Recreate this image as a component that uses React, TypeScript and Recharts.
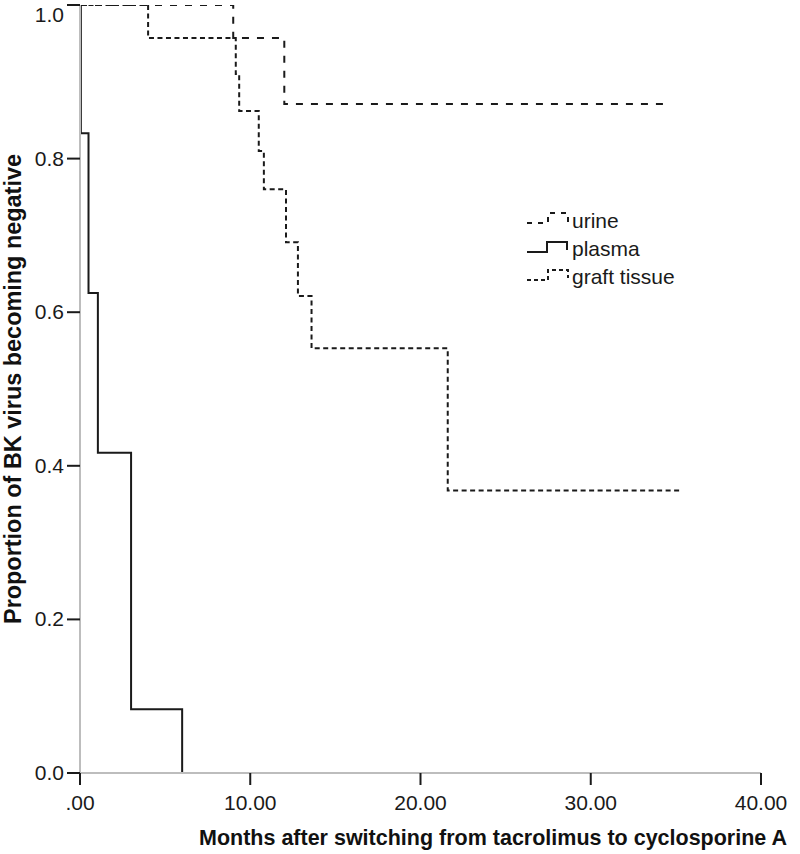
import { LineChart, Line, XAxis, YAxis, Label } from 'recharts';

// Kaplan-Meier steps (time in months, proportion)
const urineTimes = [0, 9.0, 12.0, 34.6];
const urineValues = [1, 0.957, 0.871, 0.871];

const plasmaTimes = [0, 0.05, 0.5, 1.05, 3.0, 6.0];
const plasmaValues = [1, 0.833, 0.625, 0.417, 0.083, 0];

const graftTimes = [0, 4.0, 9.15, 9.35, 10.5, 10.8, 12.1, 12.8, 13.6, 21.6, 35.2];
const graftValues = [1, 0.957, 0.91, 0.862, 0.81, 0.76, 0.691, 0.621, 0.553, 0.368, 0.368];

const xTicks = [0, 10, 20, 30, 40];
const yTicks = [0, 0.2, 0.4, 0.6, 0.8, 1.0];

const toSeries = (times: number[], values: number[]) =>
  times.map((t, i) => ({ t, s: values[i] }));

const urineData = toSeries(urineTimes, urineValues);
const plasmaData = toSeries(plasmaTimes, plasmaValues);
const graftData = toSeries(graftTimes, graftValues);

const INK = '#1a1a1a';
const tickFont = "'Liberation Sans', Arial, sans-serif";
const labelFont = "'Liberation Sans', Arial, sans-serif";

const YTick = (props: any) => {
  const { x, y, payload } = props;
  const dy = payload.value === 1 ? 13 : 7;
  return (
    <text x={x} y={y + dy} textAnchor="end" fontSize={21} fontFamily={tickFont} fill={INK}>
      {payload.value.toFixed(1)}
    </text>
  );
};

const XLabel = () => (
  <text
    x={493}
    y={845}
    textAnchor="middle"
    fontSize={22}
    fontWeight="bold"
    fontFamily={labelFont}
    fill="#111"
    textLength={588}
    lengthAdjust="spacingAndGlyphs"
  >
    Months after switching from tacrolimus to cyclosporine A
  </text>
);

const YLabel = () => (
  <text
    x={0}
    y={0}
    transform="translate(21, 389) rotate(-90)"
    textAnchor="middle"
    fontSize={23}
    fontWeight="bold"
    fontFamily={labelFont}
    fill="#111"
    textLength={470}
    lengthAdjust="spacingAndGlyphs"
  >
    Proportion of BK virus becoming negative
  </text>
);

function KmLegend() {
  const text = { fontSize: 21, fontFamily: tickFont, fill: INK };
  return (
    <svg
      width={800}
      height={854}
      style={{ position: 'absolute', left: 0, top: 0, pointerEvents: 'none' }}
    >
      <path d="M527 223 H548 V213 H568 V222" fill="none" stroke={INK} strokeWidth={2} strokeDasharray="5 6" />
      <text x={572} y={228} {...text}>urine</text>
      <path d="M527 252 H547 V242 H567 V250" fill="none" stroke={INK} strokeWidth={2} />
      <text x={572} y={256} {...text}>plasma</text>
      <path d="M527 280 H548 V270 H568 V278" fill="none" stroke={INK} strokeWidth={2} strokeDasharray="4 3" />
      <text x={572} y={284} {...text}>graft tissue</text>
    </svg>
  );
}

export default function App() {
  return (
    <div style={{ position: 'absolute', left: 0, top: 0, width: 800, height: 854, background: '#fff' }}>
      <LineChart width={800} height={854} margin={{ top: 5, right: 39, bottom: 0, left: 0 }}>
        <XAxis
          type="number"
          dataKey="t"
          domain={[0, 40]}
          ticks={xTicks}
          tickFormatter={(v: number) => (v === 0 ? '.00' : v.toFixed(2))}
          height={81}
          tickSize={12}
          tickMargin={10}
          axisLine={{ stroke: '#bdbdbd', strokeWidth: 2 }}
          tickLine={{ stroke: INK, strokeWidth: 2 }}
          tick={{ fontSize: 21, fontFamily: tickFont, fill: INK }}
        >
          <Label content={<XLabel />} />
        </XAxis>
        <YAxis
          type="number"
          dataKey="s"
          domain={[0, 1]}
          ticks={yTicks}
          width={80}
          tickSize={13}
          tickMargin={3}
          allowDataOverflow
          axisLine={{ stroke: '#bdbdbd', strokeWidth: 2 }}
          tickLine={{ stroke: INK, strokeWidth: 2 }}
          tick={<YTick />}
        >
          <Label content={<YLabel />} />
        </YAxis>
        <Line
          data={urineData}
          dataKey="s"
          type="stepAfter"
          stroke={INK}
          strokeWidth={2}
          strokeDasharray="7 8"
          dot={false}
          isAnimationActive={false}
        />
        <Line
          data={graftData}
          dataKey="s"
          type="stepAfter"
          stroke={INK}
          strokeWidth={2}
          strokeDasharray="5 3.5"
          dot={false}
          isAnimationActive={false}
        />
        <Line
          data={plasmaData}
          dataKey="s"
          type="stepAfter"
          stroke={INK}
          strokeWidth={2}
          dot={false}
          isAnimationActive={false}
        />
      </LineChart>
      <KmLegend />
    </div>
  );
}
